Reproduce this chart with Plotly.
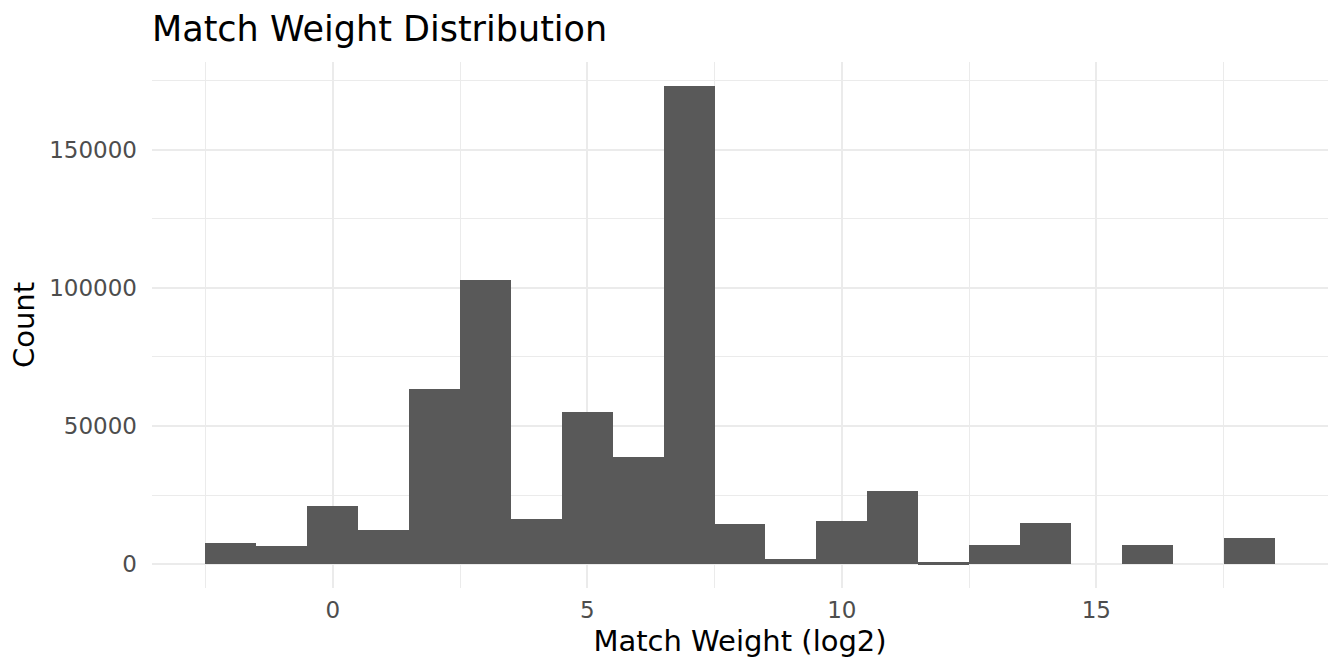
"""
Match weight histogram (log2 scale), ggplot-minimal look recreated in Plotly
"""

import plotly.graph_objects as go

# Bin centres (log2 match weight) and counts per bin, bin width = 1
bin_centres = [-2, -1, 0, 1, 2, 3, 4, 5, 6, 7, 8, 9, 10, 11, 12, 13, 14, 15, 16, 17, 18]
bin_counts = [7500, 6400, 21200, 12200, 63300, 102700, 16500, 54900, 38900, 173100,
              14400, 1800, 15500, 26400, 600, 6800, 15000, 0, 6800, 0, 9600]

x_ticks = [0, 5, 10, 15]
y_ticks = [0, 50000, 100000, 150000]

BIN_WIDTH = 1
FONT = 'DejaVu Sans, sans-serif'
GRID = '#EBEBEB'


def create_histogram():
    """Build the histogram figure"""
    fig = go.Figure()

    fig.add_trace(go.Bar(
        x=bin_centres,
        y=bin_counts,
        width=BIN_WIDTH,
        marker=dict(color='#595959', line=dict(width=0)),
        hovertemplate='Weight %{x}<br>Count: %{y:,}<extra></extra>'
    ))

    # ggplot style 5% expansion on both axes
    x_lo = min(bin_centres) - BIN_WIDTH / 2
    x_hi = max(bin_centres) + BIN_WIDTH / 2
    x_pad = 0.05 * (x_hi - x_lo)
    y_hi = max(bin_counts)
    y_pad = 0.05 * y_hi

    fig.update_layout(
        title=dict(
            text='Match Weight Distribution',
            x=0, xref='paper', xanchor='left',
            y=1 - 29 / 672, yref='container', yanchor='middle',
            font=dict(size=35, color='black', family=FONT)
        ),
        width=1344,
        height=672,
        bargap=0,
        showlegend=False,
        plot_bgcolor='white',
        paper_bgcolor='white',
        font=dict(family=FONT, size=23, color='#4D4D4D'),
        margin=dict(l=152, r=16, t=62, b=84),
        xaxis=dict(
            title=dict(text='Match Weight (log2)', standoff=8,
                       font=dict(size=29, color='black')),
            range=[x_lo - x_pad, x_hi + x_pad],
            tickmode='array',
            tickvals=x_ticks,
            ticktext=[str(v) for v in x_ticks],
            ticklabelstandoff=6,
            showgrid=True,
            gridcolor=GRID,
            gridwidth=2.2,
            minor=dict(tick0=2.5, dtick=5, showgrid=True, gridcolor=GRID, gridwidth=1.3),
            zeroline=False,
            showline=False,
            ticks=''
        ),
        yaxis=dict(
            title=dict(text='Count', standoff=6,
                       font=dict(size=29, color='black')),
            range=[-y_pad, y_hi + y_pad],
            tickmode='array',
            tickvals=y_ticks,
            ticktext=[str(v) for v in y_ticks],
            ticklabelstandoff=14,
            showgrid=True,
            gridcolor=GRID,
            gridwidth=2.2,
            minor=dict(tick0=25000, dtick=50000, showgrid=True, gridcolor=GRID, gridwidth=1.3),
            zeroline=False,
            showline=False,
            ticks=''
        )
    )

    return fig


def main():
    fig = create_histogram()
    # drop the default page margin so the figure sits at the window origin
    fig.write_html('out.html', config={'displayModeBar': False},
                   post_script="document.body.style.margin='0';")


if __name__ == "__main__":
    main()
